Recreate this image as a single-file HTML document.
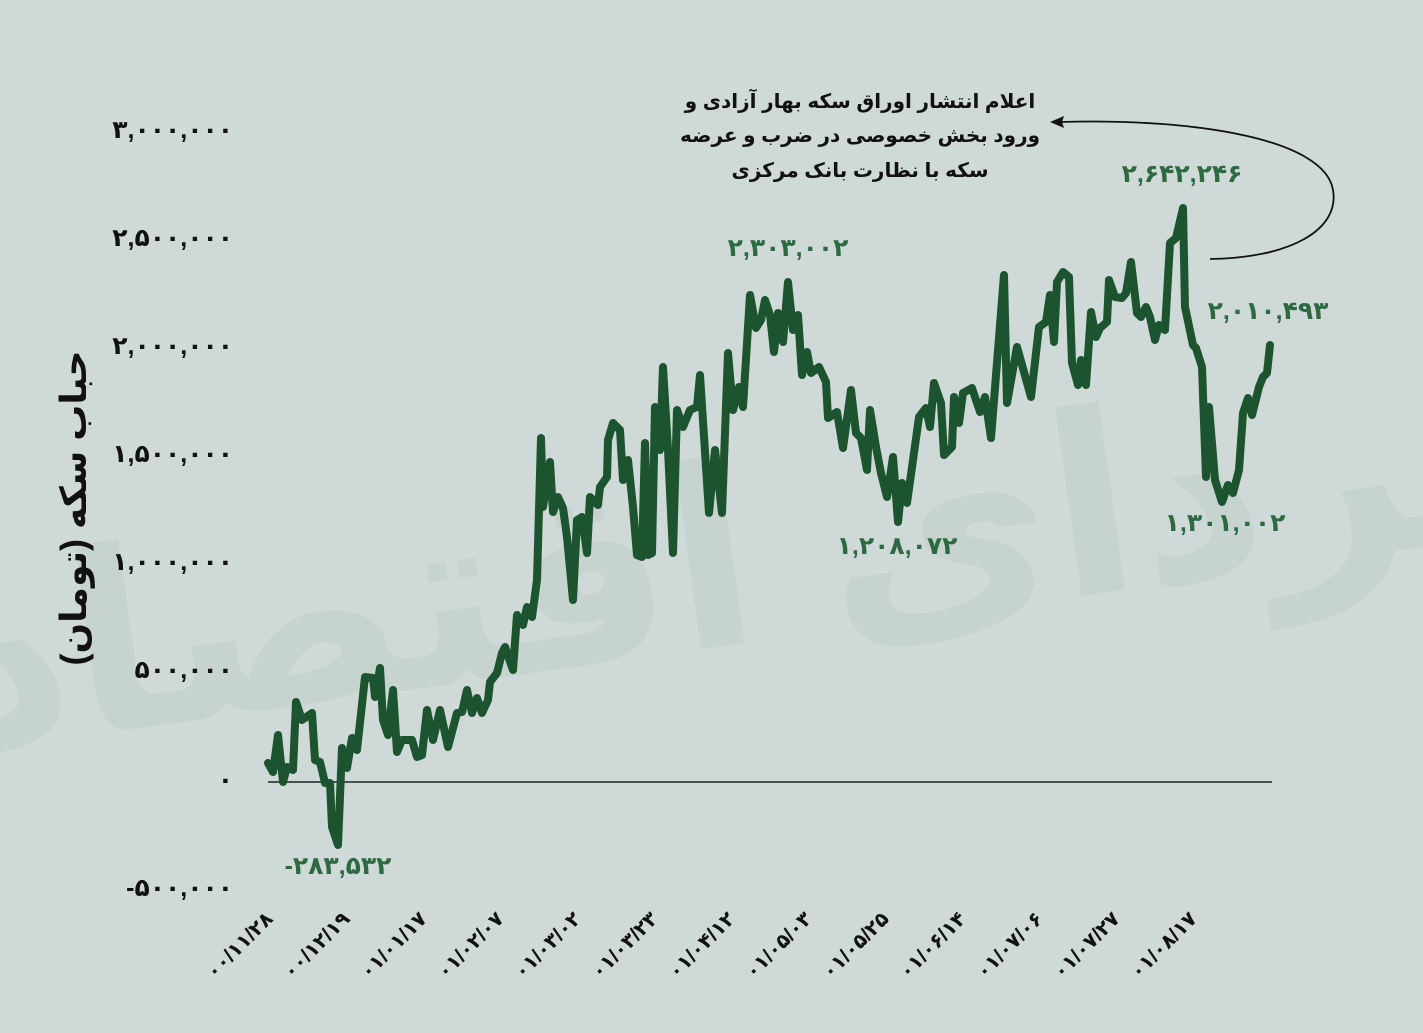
<!DOCTYPE html>
<html><head><meta charset="utf-8"><style>
html,body{margin:0;padding:0;background:#cfdad8;}
svg{display:block;}
text{font-family:"Liberation Sans","Noto Sans CJK SC","DejaVu Sans",sans-serif;}
</style></head><body>
<svg width="1423" height="1033" viewBox="0 0 1423 1033" xmlns="http://www.w3.org/2000/svg">
<rect width="1423" height="1033" fill="#cfdad8"/>
<!-- watermark -->
<text x="760" y="640" text-anchor="middle" font-size="250" font-weight="bold" fill="#c7d3cf" direction="rtl" transform="rotate(-8 760 560)">فردای اقتصاد</text>

<!-- y labels -->
<g font-size="25" font-weight="bold" fill="#111" text-anchor="end">
<text x="233" y="138">۳,۰۰۰,۰۰۰</text>
<text x="233" y="246">۲,۵۰۰,۰۰۰</text>
<text x="233" y="354">۲,۰۰۰,۰۰۰</text>
<text x="233" y="462">۱,۵۰۰,۰۰۰</text>
<text x="233" y="570">۱,۰۰۰,۰۰۰</text>
<text x="233" y="678">۵۰۰,۰۰۰</text>
<text x="233" y="788">۰</text>
<text x="233" y="896">-۵۰۰,۰۰۰</text>
</g>
<text transform="translate(86 508) rotate(-90)" text-anchor="middle" font-size="36" font-weight="bold" fill="#111" direction="rtl">حباب سکه (تومان)</text>

<line x1="268" y1="782" x2="1272" y2="782" stroke="#222" stroke-width="1.5"/>

<polyline fill="none" stroke="#1c5430" stroke-width="8" stroke-linejoin="round" stroke-linecap="round" points="
268,763 273,772 278,735 283,782 287,767 293,770 296,702 302,720 312,713 315,760 320,762 325,783 330,783 332,827 338,845 342,748 347,768 352,738 357,750 365,677 373,678 375,697 380,668 383,720 388,735 393,690 397,752 402,740 412,740 417,757 422,755 427,710 433,740 440,710 448,747 457,713 462,712 467,690 472,713 477,698 482,713 488,700 490,682 497,673 502,653 505,647 513,670 517,615 523,625 527,607 532,617 537,580 541,438 543,507 550,462 553,512 558,497 563,508 567,537 573,600 577,520 582,517 587,553 590,497 598,505 600,487 607,477 608,440 613,423 620,430 623,480 628,460 633,507 637,555 642,557 645,443 648,555 652,553 655,407 660,450 663,367 668,450 673,553 677,410 683,427 690,410 697,407 700,375
709,513 715,450 722,513 728,353 733,410 739,387 743,407 750,295 756,328 761,320 765,300 770,315 774,352 778,313 783,342 788,282 793,330 798,315 802,375 807,352 811,373 819,367 826,382 828,418 837,412 843,448 851,390 856,433 861,438 867,470 870,410 876,447 881,473 887,497 893,457 898,522 902,483 907,503 919,417 926,408 930,427 934,383 941,403 944,455 952,447 954,397 959,423 963,393 972,388 980,412 985,397 991,438 1004,275 1007,403 1017,347 1031,397 1039,327 1046,322 1050,295 1054,342 1057,282 1063,272 1069,277 1072,363 1078,385 1081,360 1086,385 1091,312 1096,337 1100,328 1107,322 1109,280 1115,297 1122,298 1126,293 1131,262 1137,313 1141,317 1146,307 1150,317 1155,340 1159,325 1165,330 1170,243 1176,238 1183,208 1185,307 1193,345 1196,348 1202,367 1206,477 1209,407 1215,480 1222,502 1228,485 1233,493 1239,470 1243,413 1248,398 1252,415 1259,387 1263,377 1267,373 1270,345"/>

<!-- value annotations -->
<g font-size="25" font-weight="bold" fill="#2d6a42" text-anchor="middle">
<text x="1182" y="182">۲,۶۴۲,۲۴۶</text>
<text x="788" y="256">۲,۳۰۳,۰۰۲</text>
<text x="1268" y="319">۲,۰۱۰,۴۹۳</text>
<text x="1225" y="531">۱,۳۰۱,۰۰۲</text>
<text x="897" y="554">۱,۲۰۸,۰۷۲</text>
<text x="338" y="874">-۲۸۳,۵۳۲</text>
</g>

<!-- callout -->
<g font-size="20" font-weight="bold" fill="#111" text-anchor="middle" direction="rtl">
<text x="860" y="108">اعلام انتشار اوراق سکه بهار آزادی و</text>
<text x="860" y="142">ورود بخش خصوصی در ضرب و عرضه</text>
<text x="860" y="177">سکه با نظارت بانک مرکزی</text>
</g>
<path d="M1210,259 C1290,258 1340,230 1333,190 C1325,140 1200,118 1060,122" fill="none" stroke="#111" stroke-width="1.8"/>
<polygon points="1050,122 1064,116 1062,122 1064,128" fill="#111"/>

<!-- x labels -->
<g font-size="20" font-weight="bold" fill="#111" text-anchor="end">
<text transform="translate(274 920) rotate(-45)" direction="ltr" unicode-bidi="bidi-override">۰۰/۱۱/۲۸</text>
<text transform="translate(351 920) rotate(-45)" direction="ltr" unicode-bidi="bidi-override">۰۰/۱۲/۱۹</text>
<text transform="translate(428 920) rotate(-45)" direction="ltr" unicode-bidi="bidi-override">۰۱/۰۱/۱۷</text>
<text transform="translate(505 920) rotate(-45)" direction="ltr" unicode-bidi="bidi-override">۰۱/۰۲/۰۷</text>
<text transform="translate(582 920) rotate(-45)" direction="ltr" unicode-bidi="bidi-override">۰۱/۰۳/۰۲</text>
<text transform="translate(659 920) rotate(-45)" direction="ltr" unicode-bidi="bidi-override">۰۱/۰۳/۲۳</text>
<text transform="translate(736 920) rotate(-45)" direction="ltr" unicode-bidi="bidi-override">۰۱/۰۴/۱۲</text>
<text transform="translate(813 920) rotate(-45)" direction="ltr" unicode-bidi="bidi-override">۰۱/۰۵/۰۳</text>
<text transform="translate(890 920) rotate(-45)" direction="ltr" unicode-bidi="bidi-override">۰۱/۰۵/۲۵</text>
<text transform="translate(967 920) rotate(-45)" direction="ltr" unicode-bidi="bidi-override">۰۱/۰۶/۱۴</text>
<text transform="translate(1044 920) rotate(-45)" direction="ltr" unicode-bidi="bidi-override">۰۱/۰۷/۰۶</text>
<text transform="translate(1121 920) rotate(-45)" direction="ltr" unicode-bidi="bidi-override">۰۱/۰۷/۲۷</text>
<text transform="translate(1198 920) rotate(-45)" direction="ltr" unicode-bidi="bidi-override">۰۱/۰۸/۱۷</text>
</g>
</svg>
</body></html>
